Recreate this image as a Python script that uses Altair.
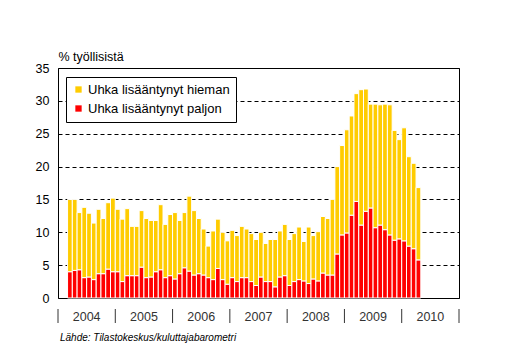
import altair as alt
import pandas as pd

# Months: March 2004 .. April 2010
months = [f"{2004 + (2 + i) // 12}-{(2 + i) % 12 + 1:02d}" for i in range(74)]

S_HIEMAN = "Uhka lisääntynyt hieman"
S_PALJON = "Uhka lisääntynyt paljon"

paljon = [
    4.0, 4.2, 4.3, 3.1, 3.2, 2.8, 3.7, 3.7, 4.4, 4.0,
    4.0, 2.5, 3.4, 3.4, 3.4, 4.7, 3.1, 3.2, 4.0, 4.3, 3.1, 3.4,
    2.9, 3.7, 4.6, 4.1, 3.5, 3.7, 3.5, 3.1, 2.8, 4.5, 2.8, 2.1,
    3.1, 2.5, 3.1, 3.1, 2.5, 1.9, 3.2, 2.5, 2.5, 1.7, 3.2, 3.4,
    1.9, 2.5, 2.8, 2.6, 2.2, 2.9, 2.6, 3.8, 3.5, 3.5, 6.7, 9.6,
    9.9, 12.6, 14.7, 11.1, 13.2, 13.7, 10.7, 11.1, 10.4, 9.6, 8.8, 9.0,
    8.7, 7.9, 7.5, 5.8,
]
hieman = [
    11.0, 10.8, 8.7, 10.7, 9.7, 8.6, 9.8, 8.4, 10.1, 11.2,
    9.5, 9.5, 10.2, 7.5, 7.5, 8.6, 9.0, 8.6, 7.8, 9.9, 8.1, 9.3,
    10.1, 8.1, 8.4, 11.4, 9.8, 8.4, 7.0, 4.8, 7.4, 7.5, 7.2, 6.6,
    7.2, 7.0, 7.8, 7.4, 7.3, 7.0, 6.8, 5.8, 6.4, 7.2, 7.0, 7.8,
    7.0, 7.3, 8.0, 6.0, 8.6, 6.6, 7.5, 8.6, 8.6, 11.5, 13.3, 13.6,
    15.7, 15.1, 16.4, 20.6, 18.6, 15.8, 18.8, 18.3, 19.1, 19.8, 16.7, 15.1,
    17.2, 13.6, 13.0, 11.0,
]
years = ["2004", "2005", "2006", "2007", "2008", "2009", "2010"]
y_ticks = [0, 5, 10, 15, 20, 25, 30, 35]
source = "Lähde: Tilastokeskus/kuluttajabarometri"
y_title = "% työllisistä"

FONT = "Liberation Sans"

rows = []
for m, p, h in zip(months, paljon, hieman):
    yy, mm = int(m[:4]), int(m[5:])
    t = (yy - 2004) * 12 + (mm - 1)
    rows.append({"month": m, "t": t, "t2": t + 1, "series": S_PALJON, "lo": 0.0, "hi": p})
    rows.append({"month": m, "t": t, "t2": t + 1, "series": S_HIEMAN, "lo": p, "hi": p + h})
df = pd.DataFrame(rows)

ydf = pd.DataFrame({"year": years,
                    "tc": [12 * i + 6 for i in range(len(years))]})
sep = pd.DataFrame({"t": [12 * i for i in range(len(years) + 1)]})

xscale = alt.Scale(domain=[0, 84], nice=False, zero=False)

bars = alt.Chart(df).mark_rect(stroke="white", strokeWidth=1).encode(
    x=alt.X("t:Q", scale=xscale, axis=None),
    x2="t2:Q",
    y=alt.Y("lo:Q",
            scale=alt.Scale(domain=[0, 35], nice=False),
            axis=alt.Axis(values=y_ticks, grid=True, gridDash=[4, 3],
                          gridColor="black", gridOpacity=1, gridWidth=1,
                          ticks=False, domain=False, labelPadding=9,
                          labelFont=FONT, labelFontSize=12.5, labelColor="black",
                          title=y_title, titleAngle=0, titleX=0, titleY=-5,
                          titleAlign="left", titleBaseline="bottom",
                          titleFont=FONT, titleFontSize=12.5,
                          titleFontWeight="normal", titleColor="black")),
    y2="hi:Q",
    color=alt.Color("series:N",
                    scale=alt.Scale(domain=[S_HIEMAN, S_PALJON],
                                    range=["#FFCC00", "#FF0000"]),
                    legend=alt.Legend(title=None, orient="none", legendX=8, legendY=9,
                                      strokeColor="black", fillColor="white",
                                      padding=6, symbolType="square", symbolSize=40,
                                      symbolStrokeWidth=0, labelFont=FONT,
                                      labelFontSize=13, labelColor="black",
                                      rowPadding=5, labelOffset=3)),
)

rules = alt.Chart(sep).mark_rule(color="#333333", strokeWidth=1).encode(
    x=alt.X("t:Q", scale=xscale, axis=None),
    y=alt.value(241), y2=alt.value(255),
)

labels = alt.Chart(ydf).mark_text(font=FONT, fontSize=12.5, color="#333333",
                                  baseline="middle", align="center").encode(
    x=alt.X("tc:Q", scale=xscale, axis=None),
    y=alt.value(249),
    text="year:N",
)

src = alt.Chart(pd.DataFrame({"s": [source]})).mark_text(
    font=FONT, fontSize=10, fontStyle="italic", color="black",
    align="left", baseline="alphabetic").encode(
    x=alt.value(2), y=alt.value(273), text="s:N")

chart = alt.layer(bars, rules, labels, src).properties(
    width=401, height=230,
    autosize=alt.AutoSizeParams(type="none"),
    padding={"left": 58, "top": 68, "right": 55, "bottom": 53},
    background="white",
).configure_view(stroke="black", strokeWidth=1)

chart.save("out.html", embed_options={"renderer": "svg", "actions": False})
